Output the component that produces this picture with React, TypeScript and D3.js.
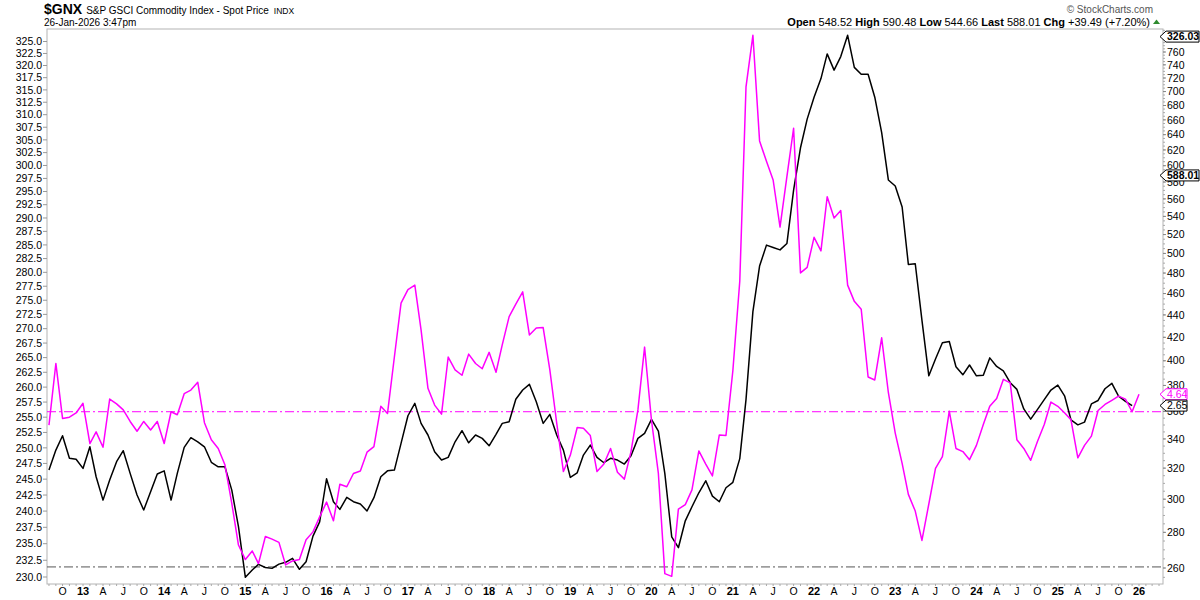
import React, { useEffect } from 'react';
import * as d3 from 'd3';

// Monthly series, first point Aug 2012
const START = new Date(2012, 7, 1);

// Magenta series (left axis units)
const ratioValues: number[] = [
  253.7, 264.0, 254.8, 255.0, 255.7,
  257.3, 250.7, 252.6, 250.1, 258.0, 257.2, 256.2, 254.3, 252.7, 254.3, 252.9, 254.3,
  250.7, 255.9, 255.4, 258.9, 259.5, 260.8, 254.1, 251.3, 249.9, 247.3, 241.2, 234.8,
  232.6, 233.9, 232.0, 236.1, 235.7, 235.2, 231.8, 232.4, 232.6, 235.6, 236.8, 239.1,
  241.4, 238.5, 244.2, 243.8, 245.9, 246.3, 249.3, 250.2, 256.8, 255.6, 265.1, 274.5,
  276.9, 277.7, 269.8, 259.8, 257.0, 255.5, 265.1, 262.9, 262.0, 265.6, 264.0, 263.1,
  265.9, 262.5, 267.2, 272.1, 274.3, 276.5, 268.9, 270.1, 270.2, 262.9, 254.0, 246.2,
  248.8, 253.3, 253.2, 252.0, 246.2, 247.4, 249.9, 246.1, 245.0, 249.4, 256.2, 266.8,
  254.5, 245.9, 230.5, 230.1, 240.3, 241.0, 243.3, 249.5, 247.4, 245.5, 252.1, 252.0,
  262.8, 278.4, 315.6, 326.3, 304.8, 300.8, 297.2, 288.3, 297.9, 307.3, 279.9, 280.9,
  286.4, 283.9, 294.0, 290.0, 291.4, 277.7, 274.8, 273.4, 261.7, 261.2, 268.4, 259.1,
  252.4, 247.5, 242.6, 240.0, 235.5, 241.1, 246.7, 248.6, 256.0, 249.9, 249.4, 248.1,
  250.4, 253.8, 256.8, 258.1, 261.3, 260.7, 251.3, 249.9, 248.0, 251.0, 253.8, 257.5,
  256.8, 255.7, 254.6, 248.4, 250.4, 251.9, 256.1, 257.1, 257.8, 258.5, 258.0, 255.9,
  258.8,
];

// Black series (right axis units)
const priceValues: number[] = [
  318.7, 332.2, 342.3, 326.6, 325.9,
  319.8, 334.5, 314.3, 299.4, 312.2, 324.3, 331.8, 316.5, 302.6, 293.3, 304.7, 316.1,
  318.2, 299.4, 316.5, 334.1, 340.9, 338.0, 334.5, 323.9, 320.9, 320.9, 305.7, 283.3,
  255.0, 258.9, 262.0, 260.3, 259.8, 262.1, 263.1, 265.3, 259.3, 263.4, 277.8, 286.2,
  313.0, 298.4, 293.7, 301.1, 298.4, 297.0, 292.7, 300.9, 314.3, 318.2, 318.7, 336.9,
  356.8, 366.1, 351.2, 342.8, 331.1, 325.4, 327.2, 338.0, 345.9, 337.3, 342.8, 340.4,
  335.2, 343.3, 351.2, 352.4, 369.2, 376.4, 380.9, 367.3, 351.2, 357.8, 342.8, 332.2,
  313.9, 316.9, 328.8, 335.7, 327.2, 323.6, 326.6, 325.4, 322.7, 328.3, 340.4, 344.0,
  354.1, 345.6, 316.5, 277.4, 271.2, 286.8, 295.3, 304.0, 311.7, 301.9, 298.4, 307.2,
  310.7, 326.4, 369.0, 443.0, 487.0, 508.7, 506.2, 503.7, 510.5, 570.3, 622.8, 661.0,
  691.8, 719.1, 757.0, 731.9, 752.8, 786.8, 736.1, 725.7, 725.7, 691.8, 642.7, 582.5,
  575.2, 550.7, 488.7, 489.4, 435.3, 387.7, 401.5, 415.2, 416.4, 395.1, 388.5, 396.5,
  387.7, 388.2, 402.4, 395.3, 391.7, 382.2, 376.9, 361.9, 354.3, 361.4, 369.0, 376.4,
  380.3, 371.6, 353.8, 350.1, 352.1, 365.7, 368.3, 377.4, 381.7, 371.6, 367.7, 364.4,
];

const leftTicks: number[] = [
  230.0, 232.5, 235.0, 237.5, 240.0, 242.5, 245.0, 247.5, 250.0, 252.5, 255.0, 257.5,
  260.0, 262.5, 265.0, 267.5, 270.0, 272.5, 275.0, 277.5, 280.0, 282.5, 285.0, 287.5,
  290.0, 292.5, 295.0, 297.5, 300.0, 302.5, 305.0, 307.5, 310.0, 312.5, 315.0, 317.5,
  320.0, 322.5, 325.0,
];
const rightTicks: number[] = [
  260, 280, 300, 320, 340, 360, 380, 400, 420, 440, 460, 480, 500, 520, 540, 560, 580,
  600, 620, 640, 660, 680, 700, 720, 740, 760,
];
const monthLetters: Record<number, string> = { 3: 'A', 6: 'J', 9: 'O' };

const ratioLevel = 255.9; // magenta dash-dot reference
const lowLevel = 231.5; // gray dash-dot reference
const leftMaxLabel = 326.03;
const lastPrice = 588.01;
const ratioLastLabel = '4.64';
const priceLastLabel = '2.65';

const FONT = '"Liberation Sans", Arial, Helvetica, sans-serif';

const W = 1200;
const H = 600;
const PL = 47, PR = 1163, PT = 29, PB = 584;

const monthDate = (i: number) => d3.timeMonth.offset(START, i);

export default function App() {
  useEffect(() => {
    document.body.style.margin = '0';
  }, []);

  const x = d3.scaleTime().domain([new Date(2013, 0, 1), new Date(2026, 0, 1)]).range([83, 1139]);
  const yL = d3.scaleLog().domain([230, 325]).range([577, 41.5]);
  const yR = d3.scaleLog().domain([260, 760]).range([568, 52]);

  const ratioLine = d3.line<number>().x((_, i) => x(monthDate(i))).y((d) => yL(d));
  const priceLine = d3.line<number>().x((_, i) => x(monthDate(i))).y((d) => yR(d));

  const months = d3.timeMonth.range(x.invert(PL), x.invert(PR));
  const labelMonths = months.filter((m) => m.getMonth() % 3 === 0 && x(m) > PL + 6 && x(m) < PR - 6);

  const rightMinor = d3.range(255, 800, 5).filter((v) => yR(v) > PT && yR(v) < PB);

  const ratioLastY = yL(ratioValues[ratioValues.length - 1]);
  const priceLastY = yR(priceValues[priceValues.length - 1]);

  const tag = (cy: number, w: number) =>
    `M${PR - 3},${cy} L${PR + 3},${cy - 5.5} L${PR + w},${cy - 5.5} L${PR + w},${cy + 5.5} L${PR + 3},${cy + 5.5} Z`;

  return (
    <svg
      width={W}
      height={H}
      viewBox={`0 0 ${W} ${H}`}
      style={{ position: 'absolute', left: 0, top: 0, background: '#fff' }}
      fontFamily={FONT}
    >
      <defs>
        <clipPath id="plot">
          <rect x={PL} y={PT} width={PR - PL} height={PB - PT} />
        </clipPath>
      </defs>
      <rect x={0} y={0} width={W} height={H} fill="#fff" />

      {/* Header */}
      <text x={44} y={14} fill="#000">
        <tspan fontSize={14} fontWeight="bold">$GNX</tspan>
        <tspan fontSize={10} dx={4}>S&amp;P GSCI Commodity Index - Spot Price</tspan>
        <tspan fontSize={8.5} dx={5}>INDX</tspan>
      </text>
      <text x={44} y={26} fontSize={10} fill="#000">26-Jan-2026 3:47pm</text>
      <text x={1153} y={12.5} fontSize={10} fill="#555" textAnchor="end">© StockCharts.com</text>
      <text x={1150} y={26} fontSize={11} fill="#000" textAnchor="end">
        <tspan fontWeight="bold">Open</tspan> 548.52 <tspan fontWeight="bold">High</tspan> 590.48{' '}
        <tspan fontWeight="bold">Low</tspan> 544.66 <tspan fontWeight="bold">Last</tspan> 588.01{' '}
        <tspan fontWeight="bold">Chg</tspan> +39.49 (+7.20%)
      </text>
      <path d="M1153,24 L1156.5,19.5 L1160,24 Z" fill="#2e8b2e" />

      {/* Frame */}
      <rect x={PL} y={PT} width={PR - PL} height={PB - PT} fill="none" stroke="#b4b4b4" strokeWidth={1} />

      {/* Left axis */}
      {leftTicks.map((t) => (
        <g key={`l${t}`}>
          <line x1={PL - 4} x2={PL} y1={yL(t)} y2={yL(t)} stroke="#999" />
          <text x={PL - 5} y={yL(t)} dy="0.35em" fontSize={10.5} textAnchor="end" fill="#000">
            {t.toFixed(1)}
          </text>
        </g>
      ))}

      {/* Right axis */}
      {rightMinor.map((v) => (
        <line key={`rm${v}`} x1={PR} x2={PR + 2} y1={yR(v)} y2={yR(v)} stroke="#aaa" />
      ))}
      {rightTicks.map((t) => (
        <g key={`r${t}`}>
          <line x1={PR} x2={PR + 3} y1={yR(t)} y2={yR(t)} stroke="#888" />
          <text x={PR + 4} y={yR(t)} dy="0.35em" fontSize={10.5} fill="#000">{t}</text>
        </g>
      ))}

      {/* Bottom axis */}
      {months.map((m, i) => (
        <line key={`bm${i}`} x1={x(m)} x2={x(m)} y1={PB} y2={PB + 2} stroke="#aaa" />
      ))}
      {labelMonths.map((m, i) => {
        const mo = m.getMonth();
        const isYear = mo === 0;
        return (
          <text
            key={`bl${i}`}
            x={x(m)}
            y={595}
            fontSize={isYear ? 11 : 10.5}
            fontWeight={isYear ? 'bold' : 'normal'}
            textAnchor="middle"
            fill="#000"
          >
            {isYear ? String(m.getFullYear()).slice(2) : monthLetters[mo]}
          </text>
        );
      })}

      {/* Reference lines */}
      <line x1={PL} x2={PR} y1={yL(ratioLevel)} y2={yL(ratioLevel)} stroke="#ff00ff" strokeWidth={1} strokeDasharray="9,3,2,3" />
      <line x1={PL} x2={PR} y1={yL(lowLevel)} y2={yL(lowLevel)} stroke="#555" strokeWidth={1} strokeDasharray="9,3,2,3" />

      {/* Series */}
      <g clipPath="url(#plot)">
        <path d={priceLine(priceValues) || ''} fill="none" stroke="#000" strokeWidth={1.5} strokeLinejoin="round" />
        <path d={ratioLine(ratioValues) || ''} fill="none" stroke="#ff00ff" strokeWidth={1.5} strokeLinejoin="round" />
      </g>

      {/* Right-edge value tags */}
      <path d={tag(yL(leftMaxLabel), 36)} fill="#fff" stroke="#000" strokeWidth={1} />
      <text x={PR + 4} y={yL(leftMaxLabel)} dy="0.36em" fontSize={10.5} fontWeight="bold" fill="#000">
        {leftMaxLabel.toFixed(2)}
      </text>
      <path d={tag(yR(lastPrice), 36)} fill="#fff" stroke="#000" strokeWidth={1} />
      <text x={PR + 4} y={yR(lastPrice)} dy="0.36em" fontSize={10.5} fontWeight="bold" fill="#000">
        {lastPrice.toFixed(2)}
      </text>
      <path d={tag(ratioLastY, 24)} fill="#fff" stroke="#ff00ff" strokeWidth={1} />
      <text x={PR + 4} y={ratioLastY} dy="0.36em" fontSize={10.5} fill="#ff00ff">{ratioLastLabel}</text>
      <path d={tag(priceLastY, 24)} fill="#fff" stroke="#000" strokeWidth={1} />
      <text x={PR + 4} y={priceLastY} dy="0.36em" fontSize={10.5} fill="#000">{priceLastLabel}</text>
    </svg>
  );
}
